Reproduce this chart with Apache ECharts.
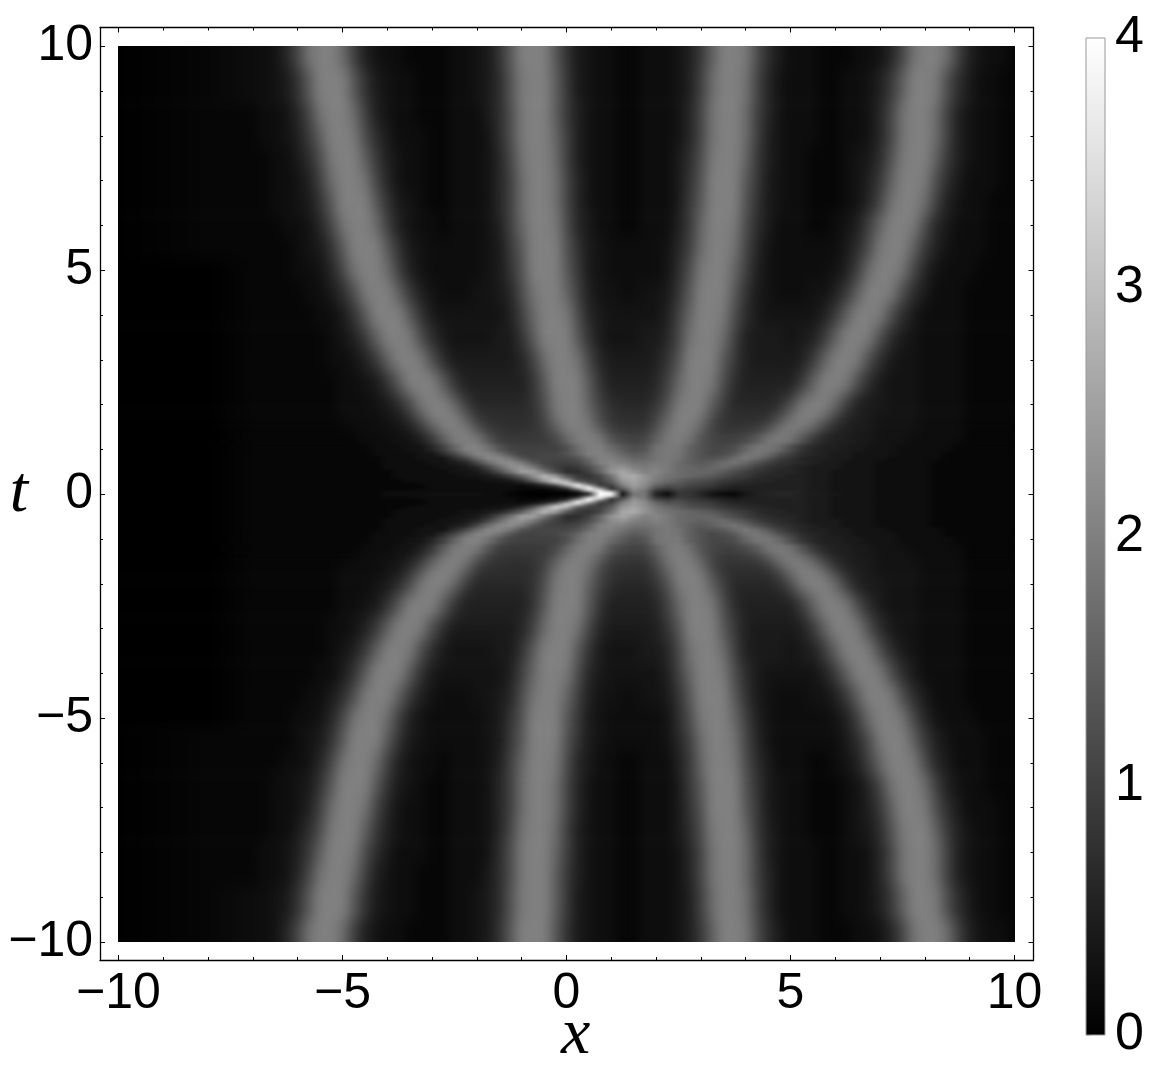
<!DOCTYPE html>
<html>
<head>
<meta charset="utf-8">
<script src="https://cdn.jsdelivr.net/npm/echarts@6/dist/echarts.min.js"></script>
<style>
html, body { margin: 0; padding: 0; background: #fff; }
#main { width: 1151px; height: 1083px; }
/* density rows sit on their own canvases: soften the row bands, crop to the plot rect */
#main canvas[data-zr-dom-id="zr_0"] {
  filter: url(#outerBlur);
  clip-path: inset(46px 136px 141px 118px);
}
/* rows near t=0 are much finer, so they get less blur and fade into the outer layer */
#main canvas[data-zr-dom-id="zr_1"] {
  filter: url(#innerBlur);
  clip-path: inset(46px 136px 141px 118px);
  -webkit-mask-image: linear-gradient(to bottom, transparent 430px, #000 458px, #000 530px, transparent 558px);
  mask-image: linear-gradient(to bottom, transparent 430px, #000 458px, #000 530px, transparent 558px);
}
</style>
</head>
<body>
<svg width="0" height="0" style="position:absolute">
  <filter id="outerBlur" x="0" y="-5%" width="100%" height="110%" color-interpolation-filters="sRGB">
    <feGaussianBlur stdDeviation="4 8"/>
  </filter>
  <filter id="innerBlur" x="0" y="-5%" width="100%" height="110%" color-interpolation-filters="sRGB">
    <feGaussianBlur stdDeviation="1 1.5"/>
  </filter>
</svg>
<div id="main"></div>
<script>
// x positions of the samples in every row
const xGrid = [-10, -8,
  -7, -6.75, -6.5, -6.25, -6, -5.75, -5.5, -5.25, -5, -4.75, -4.5, -4.25, -4, -3.75, -3.5, -3.25,
  -3, -2.75, -2.5, -2.25, -2, -1.75, -1.5, -1.25, -1, -0.75, -0.5, -0.25, 0, 0.25, 0.5, 0.75,
  1, 1.25, 1.5, 1.75, 2, 2.25, 2.5, 2.75, 3, 3.25, 3.5, 3.75, 4, 4.25, 4.5, 4.75,
  5, 5.25, 5.5, 5.75, 6, 6.25, 6.5, 6.75, 7, 7.25, 7.5, 7.75, 8, 8.25, 8.5, 8.75,
  9, 9.25, 9.5, 9.75, 10];

// intensity, in tenths (0..40), one array per t row.
// the plot is mirror symmetric in t so the same rows are used for -t
const r10 = [0,1, 2,2,3,6, 11,18,20,20, 17,10,5,3, 2,2,1,1, 1,1,2,2, 3,4,8,14, 20,20,20,14, 8,4,3,2, 2,1,1,2, 2,2,3,5, 9,15,20,20, 19,12,7,4, 2,2,2,1, 1,1,2,2, 3,6,11,18, 20,20,17,10, 5,3,2,2, 1];
const r9 = [0,1, 2,2,3,4, 8,14,20,20, 20,14,8,4, 3,2,2,1, 1,1,2,2, 3,4,7,13, 19,20,20,15, 9,4,3,2, 2,1,1,2, 2,2,3,5, 10,17,20,20, 18,11,6,3, 2,2,2,1, 1,2,2,3, 5,9,15,20, 20,19,12,7, 4,2,2,1, 1];
const r85 = [0,1, 1,2,2,3, 6,11,18,20, 20,17,10,5, 3,2,2,1, 1,1,2,2, 2,4,7,12, 19,20,20,15, 9,5,3,2, 2,1,1,2, 2,2,3,6, 11,18,20,20, 17,10,6,3, 2,2,2,1, 1,2,2,3, 6,11,18,20, 20,17,10,5, 3,2,2,1, 1];
const r8 = [0,1, 1,2,2,3, 5,9,15,20, 20,19,12,7, 4,2,2,2, 1,1,2,2, 2,3,7,12, 19,20,20,16, 10,5,3,2, 2,1,1,2, 2,2,3,6, 11,18,20,20, 17,10,5,3, 2,2,2,1, 1,2,2,3, 6,11,18,20, 20,17,10,5, 3,2,2,1, 1];
const r75 = [0,1, 1,1,2,2, 4,7,12,19, 20,20,15,9, 5,3,2,2, 1,1,2,2, 2,3,6,11, 18,20,20,17, 10,5,3,2, 2,1,1,2, 2,2,4,7, 12,19,20,20, 16,9,5,3, 2,2,1,1, 1,2,3,4, 7,13,19,20, 20,15,9,5, 3,2,2,1, 1];
const r7 = [0,1, 1,1,2,2, 3,5,10,17, 20,20,18,11, 6,3,2,2, 1,1,2,2, 2,3,6,10, 17,20,20,18, 11,6,3,2, 2,1,1,2, 2,2,4,8, 13,20,20,20, 14,9,4,3, 2,2,1,1, 1,2,3,5, 9,15,20,20, 19,12,7,4, 2,2,2,1, 1];
const r65 = [0,1, 1,1,2,2, 3,4,8,14, 20,20,20,14, 8,4,3,2, 1,1,2,2, 2,3,6,10, 17,20,20,18, 11,6,3,2, 2,1,1,2, 2,2,4,9, 14,20,20,20, 13,8,4,3, 2,2,1,1, 1,2,3,6, 11,18,20,20, 17,10,5,3, 2,2,1,1, 1];
const r6 = [0,1, 1,1,1,2, 2,3,6,11, 18,20,20,17, 10,5,3,2, 2,1,2,2, 2,3,5,10, 16,20,20,19, 12,6,4,2, 2,1,1,2, 2,2,5,9, 16,20,20,19, 12,7,4,2, 2,2,1,1, 2,3,5,10, 16,20,20,19, 12,6,4,2, 2,2,1,1, 1];
const r55 = [0,1, 1,1,1,1, 2,3,4,8, 14,20,20,20, 14,8,4,3, 2,2,2,2, 2,3,4,9, 14,20,20,20, 13,8,4,3, 2,2,2,2, 2,3,6,10, 17,20,20,18, 11,6,3,2, 2,2,2,2, 2,4,7,12, 19,20,20,15, 9,5,3,2, 2,2,1,1, 1];
const r5 = [0,0, 1,1,1,1, 2,2,3,6, 11,18,20,20, 17,10,5,3, 2,2,2,2, 2,3,4,8, 13,20,20,20, 14,9,4,3, 2,2,2,2, 2,3,7,12, 19,20,20,16, 10,5,3,2, 2,2,2,2, 3,5,10,17, 20,20,18,11, 6,3,2,2, 2,1,1,1, 1];
const r45 = [0,0, 1,1,1,1, 1,2,2,4, 7,12,19,20, 20,15,9,5, 3,2,2,2, 3,3,4,6, 12,18,20,20, 16,10,5,3, 3,2,2,3, 3,4,8,14, 20,20,20,14, 8,4,3,2, 2,2,3,3, 5,9,15,20, 20,19,12,7, 4,2,2,2, 1,1,1,1, 1];
const r4 = [0,0, 1,1,1,1, 1,1,2,2, 4,8,14,20, 20,20,14,8, 4,3,3,3, 3,3,3,5, 10,16,20,20, 19,12,6,4, 3,3,3,3, 3,5,10,16, 20,20,19,12, 7,4,3,3, 3,3,3,5, 9,15,20,20, 19,12,7,4, 2,2,2,2, 1,1,1,1, 1];
const r35 = [0,0, 1,1,1,1, 1,1,1,2, 3,5,9,15, 20,20,19,12, 7,4,3,3, 3,3,4,4, 8,14,20,20, 20,14,8,4, 3,3,3,4, 4,6,11,18, 20,20,17,10, 5,4,4,4, 3,4,5,9, 15,20,20,19, 12,7,4,3, 2,2,2,2, 1,1,1,1, 1];
const r3 = [0,0, 1,1,1,1, 1,1,1,2, 2,3,5,9, 15,20,20,19, 12,7,4,4, 4,4,4,4, 6,10,17,20, 20,18,11,6, 4,4,4,4, 5,8,13,20, 20,20,14,9, 5,4,4,4, 4,5,9,15, 20,20,19,12, 7,4,3,3, 2,2,2,2, 1,1,1,1, 1];
const r25 = [0,0, 1,1,1,1, 1,1,1,1, 2,2,3,4, 8,14,20,20, 20,14,8,5, 5,5,5,5, 5,8,14,20, 20,20,14,8, 5,5,5,5, 6,10,16,20, 20,19,12,7, 5,5,5,5, 5,9,15,20, 20,19,12,7, 4,3,3,3, 2,2,2,2, 1,1,1,1, 1];
const r2 = [0,0, 1,1,1,1, 1,1,1,1, 2,2,2,3, 4,7,12,19, 20,20,15,9, 6,6,6,6, 6,8,12,19, 20,20,15,10, 7,6,6,6, 8,12,19,20, 20,15,10,6, 6,6,6,7, 11,18,20,20, 17,10,5,4, 4,3,3,3, 2,2,2,2, 1,1,1,1, 1];
const r175 = [0,0, 1,1,1,1, 1,1,1,1, 2,2,2,2, 3,4,8,14, 20,20,20,14, 8,7,7,7, 7,7,11,18, 20,20,17,11, 8,7,7,7, 10,15,20,20, 19,12,8,7, 7,7,7,10, 17,20,20,18, 11,6,5,4, 3,3,3,3, 2,2,2,2, 1,1,1,1, 1];
const r15 = [0,0, 1,1,1,1, 1,1,1,1, 1,2,2,2, 3,3,5,9, 15,20,20,19, 12,8,8,7, 7,8,10,15, 20,20,19,13, 9,8,8,8, 12,18,20,20, 16,10,8,8, 8,8,11,18, 20,20,17,10, 6,5,4,4, 3,3,3,3, 2,2,2,2, 1,1,1,1, 1];
const r125 = [0,0, 1,1,1,1, 1,1,1,1, 1,1,2,2, 2,3,3,5, 9,15,20,20, 19,13,9,9, 9,9,9,11, 16,20,20,19, 13,11,10,11, 15,19,20,18, 13,11,10,10, 11,14,19,20, 19,14,9,6, 5,5,4,4, 3,3,3,2, 2,2,2,2, 1,1,1,1, 1];
const r1 = [0,0, 1,1,1,1, 1,1,1,1, 1,1,1,2, 2,2,3,3, 6,10,16,21, 21,18,13,10, 10,10,10,10, 12,17,20,20, 17,14,12,13, 18,19,19,15, 13,11,11,12, 16,19,19,17, 12,8,6,5, 5,4,4,3, 3,3,2,2, 2,2,2,1, 1,1,1,1, 1];
const r09 = [0,0, 1,1,1,1, 1,1,1,1, 1,1,1,2, 2,2,2,3, 3,7,11,17, 21,21,18,13, 10,10,11,11, 13,16,20,20, 19,16,14,15, 18,19,18,15, 13,11,12,14, 18,19,17,13, 10,7,6,5, 4,4,3,3, 3,3,2,2, 2,2,1,1, 1,1,1,1, 1];
const r08 = [0,0, 1,1,1,1, 1,1,1,1, 1,1,1,1, 2,2,2,3, 3,3,7,11, 17,21,21,18, 13,11,11,11, 11,13,17,20, 20,18,16,16, 18,19,18,15, 13,13,14,17, 19,17,14,10, 8,6,5,5, 4,4,3,3, 3,2,2,2, 2,2,1,1, 1,1,1,1, 1];
const r07 = [0,0, 1,1,1,1, 1,1,1,1, 1,1,1,1, 2,2,2,2, 3,3,4,6, 11,17,21,22, 19,14,11,10, 10,11,15,20, 21,20,18,18, 19,19,17,15, 14,15,17,18, 16,13,10,8, 7,6,5,4, 4,3,3,3, 2,2,2,2, 2,1,1,1, 1,1,1,1, 1];
const r06 = [0,0, 1,1,1,1, 1,1,1,1, 1,1,1,1, 2,2,2,2, 2,3,3,4, 6,11,17,22, 23,19,13,10, 8,9,12,17, 22,23,20,19, 20,19,17,16, 15,16,17,15, 13,10,8,7, 6,5,4,4, 4,3,3,3, 2,2,2,2, 2,1,1,1, 1,1,1,1, 1];
const r05 = [0,0, 1,1,1,1, 1,1,1,1, 1,1,1,1, 1,2,2,2, 2,2,3,3, 4,7,12,18, 25,25,19,12, 7,7,10,16, 23,26,23,20, 21,19,17,16, 16,16,14,12, 10,8,7,6, 6,5,4,4, 3,3,3,3, 2,2,2,2, 2,1,1,1, 1,1,1,1, 1];
const r04 = [0,0, 1,1,1,1, 1,1,1,1, 1,1,1,1, 1,2,2,2, 2,2,2,3, 3,4,6,10, 15,22,28,24, 14,9,8,11, 18,26,27,23, 20,18,17,16, 15,14,12,10, 9,7,6,6, 5,5,4,4, 3,3,3,3, 2,2,2,2, 2,1,1,1, 1,1,1,1, 1];
const r03 = [0,0, 1,1,1,1, 1,1,1,1, 1,1,1,1, 1,1,2,2, 2,2,2,2, 2,3,3,4, 8,15,25,32, 25,12,10,10, 15,24,26,23, 19,17,15,13, 12,11,9,8, 7,6,6,5, 5,5,4,4, 3,3,3,3, 2,2,2,2, 2,1,1,1, 1,1,1,1, 1];
const r025 = [0,0, 1,1,1,1, 1,1,1,1, 1,1,1,1, 1,1,1,2, 2,2,2,2, 2,2,3,3, 4,8,15,28, 34,24,12,9, 13,22,25,22, 18,15,14,12, 11,10,8,7, 6,6,5,5, 5,5,4,4, 3,3,3,3, 2,2,2,2, 2,1,1,1, 1,1,1,1, 1];
const r02 = [0,0, 1,1,1,1, 1,1,1,1, 1,1,1,1, 1,1,1,1, 2,2,2,2, 2,2,2,2, 2,3,6,12, 27,38,22,9, 10,20,25,22, 16,13,13,11, 10,9,7,6, 6,5,5,5, 5,5,4,4, 3,3,3,3, 2,2,2,2, 2,1,1,1, 1,1,1,1, 1];
const r015 = [0,0, 1,1,1,1, 1,1,1,1, 1,1,1,1, 1,1,1,1, 2,2,2,2, 2,2,2,2, 1,2,3,5, 13,33,37,16, 8,17,24,21, 14,11,12,10, 9,8,6,5, 5,5,5,5, 5,5,4,4, 3,3,3,3, 2,2,2,2, 2,1,1,1, 1,1,1,1, 1];
const r01 = [0,0, 1,1,1,1, 1,1,1,1, 1,1,1,1, 1,1,1,2, 2,2,2,2, 2,2,2,2, 1,1,1,2, 4,15,39,33, 7,12,22,19, 10,8,10,9, 8,6,5,4, 5,5,5,5, 5,5,4,4, 3,3,3,3, 2,2,2,2, 2,1,1,1, 1,1,1,1, 1];
const r005 = [0,0, 1,1,1,1, 1,1,1,1, 1,1,1,1, 2,2,2,2, 2,2,2,2, 2,2,2,1, 1,0,0,1, 1,4,19,40, 34,7,20,18, 7,4,9,8, 6,4,3,2, 4,5,5,6, 6,5,4,4, 3,3,3,3, 2,2,2,2, 2,1,1,1, 1,1,1,1, 1];
const r0 = [0,0, 1,1,1,1, 1,1,1,1, 1,1,1,1, 2,2,2,2, 3,3,3,3, 3,2,2,1, 0,0,0,0, 0,0,2,40, 40,1,18,19, 5,1,8,9, 6,3,1,1, 3,5,6,6, 6,5,5,4, 4,3,3,3, 2,2,2,2, 2,1,1,1, 1,1,1,1, 1];

const rowT = [10, 9, 8.5, 8, 7.5, 7, 6.5, 6, 5.5, 5, 4.5, 4, 3.5, 3, 2.5, 2, 1.75, 1.5, 1.25, 1, 0.9, 0.8, 0.7, 0.6, 0.5, 0.4, 0.3, 0.25, 0.2, 0.15, 0.1, 0.05, 0];
const rows = [r10, r9, r85, r8, r75, r7, r65, r6, r55, r5, r45, r4, r35, r3, r25, r2, r175, r15, r125, r1, r09, r08, r07, r06, r05, r04, r03, r025, r02, r015, r01, r005, r0];

// tick labels
const majorTicks = [-10, -5, 0, 5, 10];
const minorTicks = [-10, -9, -8, -7, -6, -5, -4, -3, -2, -1, 0, 1, 2, 3, 4, 5, 6, 7, 8, 9, 10];
const barRange = [0, 4];

const FONT = '"Liberation Sans", Arial, sans-serif';
const gray = v => {
  const g = Math.round(Math.min(v, 40) / 40 * 255);
  return 'rgb(' + g + ',' + g + ',' + g + ')';
};
const minus = v => String(v).replace('-', '\u2212');

// rows for +t then -t, top to bottom
const bandT = rowT.concat(rowT.slice(0, -1).reverse().map(t => -t));
const bandRow = rows.concat(rows.slice(0, -1).reverse());

// bands run a bit past x=+-10 so the blur has something to eat at the plot edge
const BAND_PAD = 0.4;

function renderBand(params, api) {
  const k = api.value(0);
  const t = bandT[k];
  const up = k > 0 ? (bandT[k - 1] + t) / 2 : t + 0.5;
  const down = k < bandT.length - 1 ? (bandT[k + 1] + t) / 2 : t - 0.5;
  const p0 = api.coord([-10 - BAND_PAD, up]);
  const p1 = api.coord([10 + BAND_PAD, down]);
  const span = 20 + 2 * BAND_PAD;
  const stops = xGrid.map((x, i) => ({ offset: (x + 10 + BAND_PAD) / span, color: gray(bandRow[k][i]) }));
  return {
    type: 'rect',
    shape: { x: p0[0], y: p0[1], width: p1[0] - p0[0], height: p1[1] - p0[1] + 0.5 },
    style: { fill: new echarts.graphic.LinearGradient(0, 0, 1, 0, stops) }
  };
}

function renderBar(params, api) {
  const p0 = api.coord([0, barRange[1]]);
  const p1 = api.coord([1, barRange[0]]);
  return {
    type: 'rect',
    shape: { x: p0[0], y: p0[1], width: p1[0] - p0[0], height: p1[1] - p0[1] },
    style: {
      fill: new echarts.graphic.LinearGradient(0, 0, 0, 1, [
        { offset: 0, color: '#fff' }, { offset: 1, color: '#000' }
      ]),
      stroke: '#999',
      lineWidth: 1
    }
  };
}

const lineStyle = { color: '#000', width: 1.3 };
const labelBase = { color: '#000', fontFamily: FONT, fontSize: 50, formatter: minus };

function frameAxis(position, major, extra) {
  const common = {
    type: 'value',
    gridIndex: 0,
    position: position,
    zlevel: 2,
    splitLine: { show: false },
    axisLine: { onZero: false, show: major, lineStyle: lineStyle },
    axisTick: {
      inside: true,
      length: major ? 5 : 3,
      lineStyle: { color: '#000', width: 1 },
      customValues: major ? majorTicks : minorTicks
    },
    axisLabel: { show: false }
  };
  return Object.assign(common, extra);
}

const xRange = { min: -10.413, max: 10.424 };
const yRange = { min: -10.4, max: 10.42 };
const xLabel = { show: true, margin: 9, customValues: majorTicks, ...labelBase };
const yLabel = { show: true, margin: 7, customValues: majorTicks, ...labelBase };
const nameFont = { fontFamily: '"Liberation Serif", serif', fontStyle: 'italic', fontSize: 66, color: '#000' };

const option = {
  animation: false,
  grid: [
    { left: 100, top: 27.5, width: 933.5, height: 932.5, outerBoundsMode: 'none' },
    { left: 1086, top: 38, width: 19, height: 997, outerBoundsMode: 'none' }
  ],
  xAxis: [
    frameAxis('bottom', true, {
      ...xRange, axisLabel: xLabel, name: 'x', nameLocation: 'middle', nameGap: 43, nameMoveOverlap: false,
      nameTextStyle: { ...nameFont, padding: [0, 0, 0, 18] }
    }),
    frameAxis('bottom', false, xRange),
    frameAxis('top', true, xRange),
    frameAxis('top', false, xRange),
    { type: 'value', gridIndex: 1, min: 0, max: 1, show: false }
  ],
  yAxis: [
    frameAxis('left', true, {
      ...yRange, axisLabel: yLabel, name: 't', nameLocation: 'middle', nameGap: 72, nameMoveOverlap: false,
      nameRotate: 0, nameTextStyle: nameFont
    }),
    frameAxis('left', false, yRange),
    frameAxis('right', true, yRange),
    frameAxis('right', false, yRange),
    {
      type: 'value',
      gridIndex: 1,
      position: 'right',
      min: barRange[0],
      max: barRange[1],
      interval: 1,
      zlevel: 2,
      splitLine: { show: false },
      axisLine: { show: false },
      axisTick: { length: 5, lineStyle: { color: '#ccc', width: 1 } },
      minorTick: { show: true, splitNumber: 5, length: 5, lineStyle: { color: '#ccc', width: 1 } },
      axisLabel: { color: '#000', fontFamily: FONT, fontSize: 52, margin: 10 }
    }
  ],
  series: [
    {
      type: 'custom',
      xAxisIndex: 0,
      yAxisIndex: 0,
      zlevel: 0,
      silent: true,
      renderItem: renderBand,
      data: bandT.map((t, k) => [k])
    },
    {
      type: 'custom',
      xAxisIndex: 0,
      yAxisIndex: 0,
      zlevel: 1,
      silent: true,
      renderItem: renderBand,
      data: bandT.map((t, k) => [k]).filter(d => Math.abs(bandT[d[0]]) <= 2)
    },
    {
      type: 'custom',
      xAxisIndex: 4,
      yAxisIndex: 4,
      zlevel: 2,
      silent: true,
      renderItem: renderBar,
      data: [[0]]
    }
  ]
};

const chart = echarts.init(document.getElementById('main'));
chart.setOption(option);
</script>
</body>
</html>
